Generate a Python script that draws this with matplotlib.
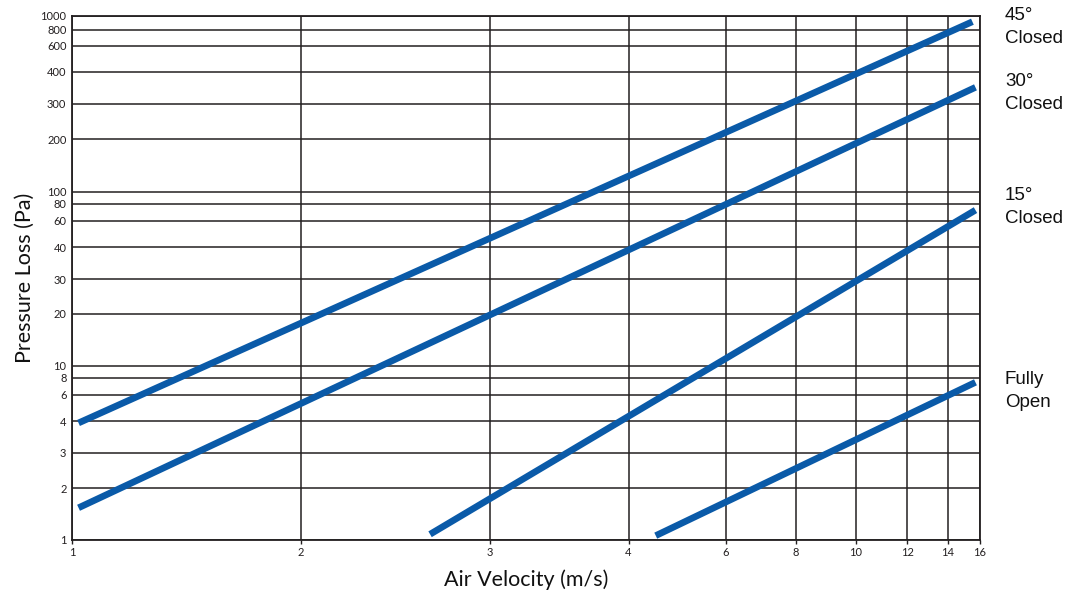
import numpy as np
import matplotlib
matplotlib.use("Agg")
import matplotlib.pyplot as plt

# ---------------- data ----------------
x_ticks = [1, 2, 3, 4, 6, 8, 10, 12, 14, 16]
y_ticks = [1, 2, 3, 4, 6, 8, 10, 20, 30, 40, 60, 80, 100, 200, 300, 400, 600, 800, 1000]

series_names = ["45°\nClosed", "30°\nClosed", "15°\nClosed", "Fully\nOpen"]
velocity_45 = [1.02, 15.5]
pressure_45 = [3.93, 910]
velocity_30 = [1.02, 15.7]
pressure_30 = [1.54, 348]
velocity_15 = [2.64, 15.7]
pressure_15 = [1.08, 72]
velocity_open = [4.48, 15.7]
pressure_open = [1.06, 7.4]

# --------------- custom (chart-specific) axis scales ---------------
# relative positions of the printed grid lines along each axis
x_grid_pos = [0.0, 229, 417.5, 556.5, 654, 723.5, 784, 835, 876, 908]
y_grid_pos = [0.0, 51.7, 87.3, 119, 145.3, 162.3, 174.3, 226, 261, 293,
              319.3, 336, 348.5, 400.7, 436, 468.3, 494, 510.5, 524]


def make_scale(ticks, pos):
    lt = np.log10(np.asarray(ticks, float))
    ps = np.asarray(pos, float)
    s0 = (ps[1] - ps[0]) / (lt[1] - lt[0])
    s1 = (ps[-1] - ps[-2]) / (lt[-1] - lt[-2])

    def fwd(v):
        v = np.asarray(v, float)
        l = np.log10(np.maximum(v, 1e-12))
        out = np.interp(l, lt, ps)
        out = np.where(l < lt[0], ps[0] + (l - lt[0]) * s0, out)
        out = np.where(l > lt[-1], ps[-1] + (l - lt[-1]) * s1, out)
        return out

    def inv(p):
        p = np.asarray(p, float)
        l = np.interp(p, ps, lt)
        l = np.where(p < ps[0], lt[0] + (p - ps[0]) / s0, l)
        l = np.where(p > ps[-1], lt[-1] + (p - ps[-1]) / s1, l)
        return 10 ** l

    return fwd, inv


fig = plt.figure(figsize=(10.79, 5.95), dpi=100)
ax = fig.add_axes([72 / 1079, 55 / 595, 908 / 1079, 524 / 595])

ax.set_xscale("function", functions=make_scale(x_ticks, x_grid_pos))
ax.set_yscale("function", functions=make_scale(y_ticks, y_grid_pos))
ax.set_xlim(1, 16)
ax.set_ylim(1, 1000)

grid_color = "#231f20"
ax.set_xticks(x_ticks)
ax.set_yticks(y_ticks)
ax.set_xticks([], minor=True)
ax.set_yticks([], minor=True)
ax.set_xticklabels([str(t) for t in x_ticks])
ax.set_yticklabels([str(t) for t in y_ticks])
ax.grid(True, color=grid_color, linewidth=1.1)
ax.set_axisbelow(True)
for sp in ax.spines.values():
    sp.set_color(grid_color)
    sp.set_linewidth(1.3)

tick_font = "Lato"
ax.tick_params(axis="x", length=3, width=1, color=grid_color, pad=2,
               labelsize=8, labelcolor=grid_color)
ax.tick_params(axis="y", length=0, pad=4, labelsize=8, labelcolor=grid_color)
for lab in ax.get_xticklabels() + ax.get_yticklabels():
    lab.set_fontfamily(tick_font)

line_color = "#0a5aa8"
for xs, ys in [(velocity_45, pressure_45), (velocity_30, pressure_30),
               (velocity_15, pressure_15), (velocity_open, pressure_open)]:
    ax.plot(xs, ys, color=line_color, linewidth=4.8, solid_capstyle="butt")

ax.set_xlabel("Air Velocity (m/s)", fontsize=15.5, family="Lato", labelpad=8,
              color="#111111")
ax.set_ylabel("Pressure Loss (Pa)", fontsize=15.5, family="Lato", labelpad=4,
              color="#111111")

label_y = [0.979, 0.853, 0.6355, 0.284]
for name, yy in zip(series_names, label_y):
    ax.text(1.0275, yy, name, transform=ax.transAxes, ha="left", va="center",
            fontsize=13.5, family=["Liberation Sans", "DejaVu Sans"],
            color="#111111", linespacing=1.45)

fig.savefig("out.png", dpi=100)
